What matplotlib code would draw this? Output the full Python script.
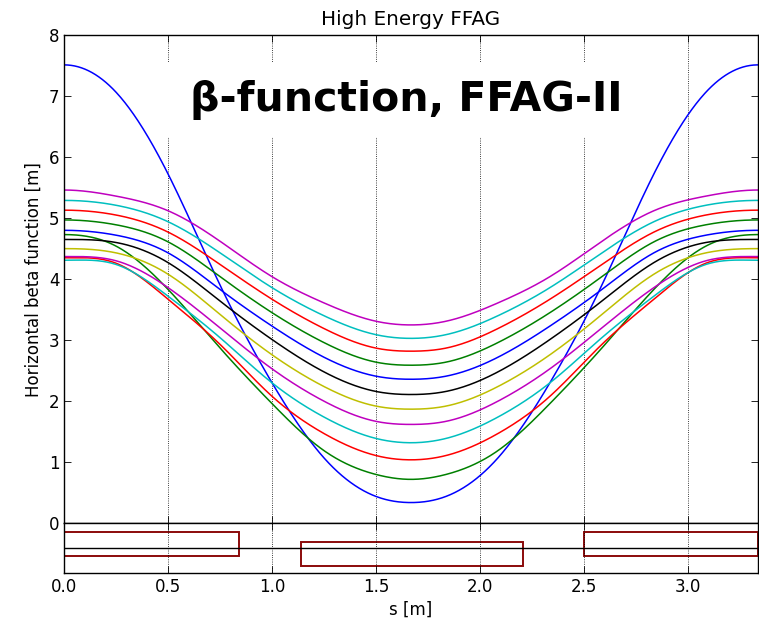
import numpy as np
import matplotlib
matplotlib.use("Agg")
import matplotlib.pyplot as plt
from matplotlib.patches import Rectangle

# ---- data ----
s_pts = [0.0, 0.25, 0.5, 0.75, 1.0, 1.25, 1.5, 1.668, 1.836, 2.086, 2.336, 2.586, 2.836, 3.086, 3.336]

beta_1 = [7.51, 7.06, 5.72, 3.90, 2.30, 1.07, 0.44, 0.34, 0.44, 1.07, 2.30, 3.90, 5.72, 7.06, 7.51]
beta_2 = [4.73, 4.54, 3.83, 2.87, 1.96, 1.19, 0.80, 0.72, 0.80, 1.19, 1.96, 2.87, 3.83, 4.54, 4.73]
beta_3 = [4.35, 4.26, 3.67, 2.93, 2.08, 1.47, 1.11, 1.04, 1.11, 1.47, 2.08, 2.93, 3.67, 4.26, 4.35]
beta_4 = [4.31, 4.24, 3.72, 3.04, 2.30, 1.74, 1.39, 1.32, 1.39, 1.74, 2.30, 3.04, 3.72, 4.24, 4.31]
beta_5 = [4.37, 4.30, 3.86, 3.20, 2.53, 2.00, 1.67, 1.62, 1.67, 2.00, 2.53, 3.20, 3.86, 4.30, 4.37]
beta_6 = [4.50, 4.43, 4.08, 3.42, 2.76, 2.24, 1.92, 1.87, 1.92, 2.24, 2.76, 3.42, 4.08, 4.43, 4.50]
beta_7 = [4.65, 4.60, 4.27, 3.64, 3.01, 2.48, 2.16, 2.11, 2.16, 2.48, 3.01, 3.64, 4.27, 4.60, 4.65]
beta_8 = [4.80, 4.72, 4.43, 3.83, 3.23, 2.72, 2.41, 2.36, 2.41, 2.72, 3.23, 3.83, 4.43, 4.72, 4.80]
beta_9 = [4.97, 4.89, 4.61, 4.04, 3.45, 2.96, 2.64, 2.59, 2.64, 2.96, 3.45, 4.04, 4.61, 4.89, 4.97]
beta_10 = [5.13, 5.05, 4.77, 4.24, 3.67, 3.19, 2.87, 2.82, 2.87, 3.19, 3.67, 4.24, 4.77, 5.05, 5.13]
beta_11 = [5.29, 5.21, 4.94, 4.43, 3.86, 3.40, 3.09, 3.03, 3.09, 3.40, 3.86, 4.43, 4.94, 5.21, 5.29]
beta_12 = [5.46, 5.36, 5.12, 4.62, 4.04, 3.61, 3.31, 3.25, 3.31, 3.61, 4.04, 4.62, 5.12, 5.36, 5.46]

series = [beta_1, beta_2, beta_3, beta_4, beta_5, beta_6,
          beta_7, beta_8, beta_9, beta_10, beta_11, beta_12]
colors = ['b', 'g', 'r', 'c', 'm', 'y', 'k', 'b', 'g', 'r', 'c', 'm']

# magnets (lattice panel): start, end, bottom, top
mag_start = [0.0, 1.139, 2.499]
mag_end = [0.842, 2.205, 3.336]
mag_bottom = [-0.34, -0.72, -0.34]
mag_top = [0.66, 0.26, 0.66]

x_ticks = [0.0, 0.5, 1.0, 1.5, 2.0, 2.5, 3.0]
y_ticks = [0, 1, 2, 3, 4, 5, 6, 7, 8]
s_max = 3.336


def smooth(x, y, xf):
    """clamped cubic spline through the read points (for a smooth line)."""
    x = np.asarray(x, float); y = np.asarray(y, float)
    n = len(x); h = np.diff(x)
    A = np.zeros((n, n)); b = np.zeros(n)
    A[0, 0] = 2 * h[0]; A[0, 1] = h[0]; b[0] = 6 * ((y[1] - y[0]) / h[0])
    A[-1, -2] = h[-1]; A[-1, -1] = 2 * h[-1]; b[-1] = 6 * (-(y[-1] - y[-2]) / h[-1])
    for i in range(1, n - 1):
        A[i, i - 1] = h[i - 1]; A[i, i] = 2 * (h[i - 1] + h[i]); A[i, i + 1] = h[i]
        b[i] = 6 * ((y[i + 1] - y[i]) / h[i] - (y[i] - y[i - 1]) / h[i - 1])
    M = np.linalg.solve(A, b)
    idx = np.clip(np.searchsorted(x, xf) - 1, 0, n - 2)
    xi, xi1 = x[idx], x[idx + 1]; hi = xi1 - xi
    t1 = xi1 - xf; t2 = xf - xi
    return (M[idx] * t1 ** 3 / (6 * hi) + M[idx + 1] * t2 ** 3 / (6 * hi)
            + (y[idx] / hi - M[idx] * hi / 6) * t1 + (y[idx + 1] / hi - M[idx + 1] * hi / 6) * t2)


plt.rcParams['font.family'] = ['DejaVu Sans']
plt.rcParams['font.size'] = 12

fig = plt.figure(figsize=(7.59, 6.28), dpi=100)
ax = fig.add_axes([0.0846, 0.1667, 0.9137, 0.7776])
ax2 = fig.add_axes([0.0846, 0.0881, 0.9137, 0.0786], sharex=ax)

sf = np.linspace(0, s_max, 800)
for vals, c in zip(series, colors):
    ax.plot(sf, smooth(s_pts, vals, sf), color=c, lw=1.1)

ax.set_xlim(0, s_max)
ax.set_ylim(0, 8)
ax.set_yticks(y_ticks)
ax.set_title('High Energy FFAG', fontsize=14.4, pad=7)
ax.set_ylabel('Horizontal beta function [m]', fontsize=12)
ax.grid(True, axis='x', color='k', linestyle=':', linewidth=0.6)
ax.tick_params(direction='in', top=True, right=True, length=5, width=0.6,
               labelbottom=False, labelsize=12)
for sp in ax.spines.values():
    sp.set_linewidth(1.0)

# white background behind the annotation
ax.add_patch(Rectangle((0.45, 6.33), 2.39, 1.23, facecolor='white',
                       edgecolor='none', zorder=1.8))
ax.text(1.645, 6.93, 'β-function, FFAG-II', fontsize=29.5, fontweight='bold',
        ha='center', va='center', zorder=5)

# lattice panel
ax2.axhline(0, color='k', lw=1.0)
for a, e, lo, hi in zip(mag_start, mag_end, mag_bottom, mag_top):
    ax2.add_patch(Rectangle((a, lo), e - a, hi - lo, fill=False,
                            edgecolor='#8b0a0a', lw=1.4))
ax2.set_ylim(-1, 1)
ax2.set_yticks([])
ax2.set_xticks(x_ticks)
ax2.set_xlim(0, s_max)
ax2.grid(True, axis='x', color='k', linestyle=':', linewidth=0.6)
ax2.tick_params(direction='in', top=True, length=5, width=0.6, labelsize=12)
ax2.set_xlabel('s [m]', fontsize=12)
for sp in ax2.spines.values():
    sp.set_linewidth(1.0)

fig.savefig('out.png', dpi=100)
